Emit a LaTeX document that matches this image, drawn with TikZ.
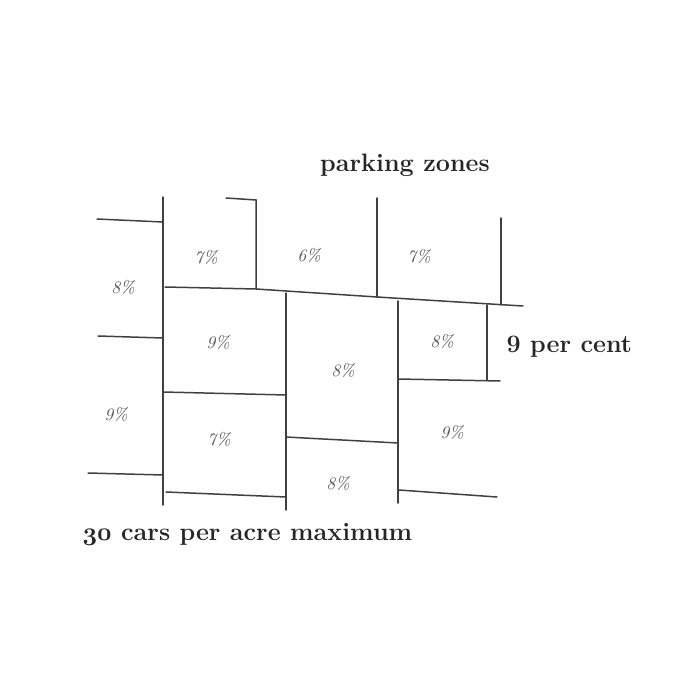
\documentclass[tikz,border=0pt]{standalone}
\usepackage{tikz}

\begin{document}
\begin{tikzpicture}[x=0.2mm,y=-0.2mm,line width=0.85pt,
  wall/.style={black!75,line cap=round},
  pct/.style={font=\itshape,black!65},
  caption/.style={font=\bfseries\fontsize{14.3}{16}\selectfont,black!85}]
  \useasboundingbox (0,0) rectangle (700,700);
  % upper row of zones
  \draw[wall] (97,219)--(163,222);
  \draw[wall] (163,197)--(163,505);
  \draw[wall] (226,198)--(256,200)--(256,289);
  \draw[wall] (377,198)--(377,297);
  \draw[wall] (501,218)--(501,305);
  \draw[wall] (165,287)--(256,289)--(377,297)--(523,306);
  % middle and lower blocks
  \draw[wall] (98,336)--(163,338);
  \draw[wall] (163,392)--(286,395);
  \draw[wall] (88,473)--(163,475);
  \draw[wall] (166,492)--(286,497);
  \draw[wall] (286,293)--(286,510);
  \draw[wall] (286,437)--(398,443);
  \draw[wall] (398,301)--(398,503);
  \draw[wall] (487,305)--(487,380);
  \draw[wall] (398,379)--(500,381);
  \draw[wall] (399,490)--(497,497);
  % percentages
  \foreach \x/\y/\t [count=\i] in {206/257/7\%, 309/255/6\%, 419/256/7\%,
      123/287/8\%, 218/342/9\%, 343/370/8\%, 442/341/8\%,
      116/414/9\%, 219/439/7\%, 452/432/9\%, 338/483/8\%}
    \node[pct] (z\i) at (\x,\y) {\t};
  \node[caption] (title) at (405,165) {parking zones};
  \node[caption,anchor=west] (rate) at (500,347) {9 per cent};
  \node[caption,anchor=west] (max) at (76,534) {{\boldmath$\oldstylenums{30}$} cars per acre maximum};
\end{tikzpicture}
\end{document}
